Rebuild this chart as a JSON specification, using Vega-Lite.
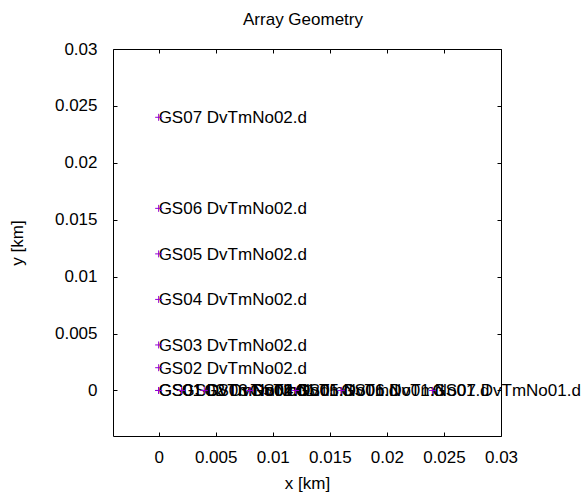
{
  "$schema": "https://vega.github.io/schema/vega-lite/v6.json",
  "width": 388,
  "height": 387,
  "autosize": {"type": "none"},
  "padding": {"left": 113, "top": 49, "right": 81, "bottom": 62},
  "title": {
    "text": "Array Geometry",
    "font": "Liberation Sans",
    "fontSize": 17,
    "fontWeight": "normal",
    "color": "black",
    "anchor": "middle",
    "baseline": "alphabetic",
    "frame": "group",
    "offset": -2,
    "dx": -4
  },
  "config": {
    "view": {"stroke": null},
    "axis": {
      "labelFont": "Liberation Sans",
      "labelFontSize": 17,
      "labelColor": "black",
      "labelFlush": false,
      "titleFont": "Liberation Sans",
      "titleFontSize": 17,
      "titleFontWeight": "normal",
      "titleColor": "black",
      "domainColor": "black",
      "domainWidth": 1,
      "tickColor": "black",
      "tickWidth": 1,
      "tickSize": -4,
      "grid": false
    }
  },
  "data": {
    "values": [
      {"x": 0, "y": 0, "label": "GS01 DvTmNo02.d"},
      {"x": 0, "y": 0.002, "label": "GS02 DvTmNo02.d"},
      {"x": 0, "y": 0.004, "label": "GS03 DvTmNo02.d"},
      {"x": 0, "y": 0.008, "label": "GS04 DvTmNo02.d"},
      {"x": 0, "y": 0.012, "label": "GS05 DvTmNo02.d"},
      {"x": 0, "y": 0.016, "label": "GS06 DvTmNo02.d"},
      {"x": 0, "y": 0.024, "label": "GS07 DvTmNo02.d"},
      {"x": 0, "y": 0, "label": "GS01 DvTmNo01.d"},
      {"x": 0.002, "y": 0, "label": "GS02 DvTmNo01.d"},
      {"x": 0.004, "y": 0, "label": "GS03 DvTmNo01.d"},
      {"x": 0.008, "y": 0, "label": "GS04 DvTmNo01.d"},
      {"x": 0.012, "y": 0, "label": "GS05 DvTmNo01.d"},
      {"x": 0.016, "y": 0, "label": "GS06 DvTmNo01.d"},
      {"x": 0.024, "y": 0, "label": "GS07 DvTmNo01.d"}
    ]
  },
  "resolve": {"axis": {"x": "independent", "y": "independent"}},
  "layer": [
    {
      "mark": {
        "type": "text",
        "align": "left",
        "baseline": "middle",
        "dy": 1,
        "font": "Liberation Sans",
        "fontSize": 17,
        "color": "black"
      },
      "encoding": {
        "x": {
          "field": "x",
          "type": "quantitative",
          "scale": {"domain": [-0.004, 0.03], "nice": false, "zero": false},
          "axis": {
            "orient": "bottom",
            "title": "x [km]",
            "values": [0, 0.005, 0.01, 0.015, 0.02, 0.025, 0.03],
            "format": "~g",
            "labelPadding": 17,
            "titlePadding": 10
          }
        },
        "y": {
          "field": "y",
          "type": "quantitative",
          "scale": {"domain": [-0.004, 0.03], "nice": false, "zero": false},
          "axis": {
            "orient": "left",
            "title": "y [km]",
            "values": [0, 0.005, 0.01, 0.015, 0.02, 0.025, 0.03],
            "format": "~g",
            "labelPadding": 20,
            "titlePadding": 28
          }
        },
        "text": {"field": "label"}
      }
    },
    {
      "mark": {
        "type": "point",
        "shape": "M-1,0L1,0M0,-1L0,1",
        "size": 49,
        "filled": false,
        "strokeWidth": 1,
        "color": "#9400d3",
        "opacity": 1
      },
      "encoding": {
        "x": {
          "field": "x",
          "type": "quantitative",
          "scale": {"domain": [-0.004, 0.03], "nice": false, "zero": false},
          "axis": {
            "orient": "top",
            "title": null,
            "labels": false,
            "values": [0, 0.005, 0.01, 0.015, 0.02, 0.025, 0.03]
          }
        },
        "y": {
          "field": "y",
          "type": "quantitative",
          "scale": {"domain": [-0.004, 0.03], "nice": false, "zero": false},
          "axis": {
            "orient": "right",
            "title": null,
            "labels": false,
            "values": [0, 0.005, 0.01, 0.015, 0.02, 0.025, 0.03]
          }
        }
      }
    }
  ]
}
